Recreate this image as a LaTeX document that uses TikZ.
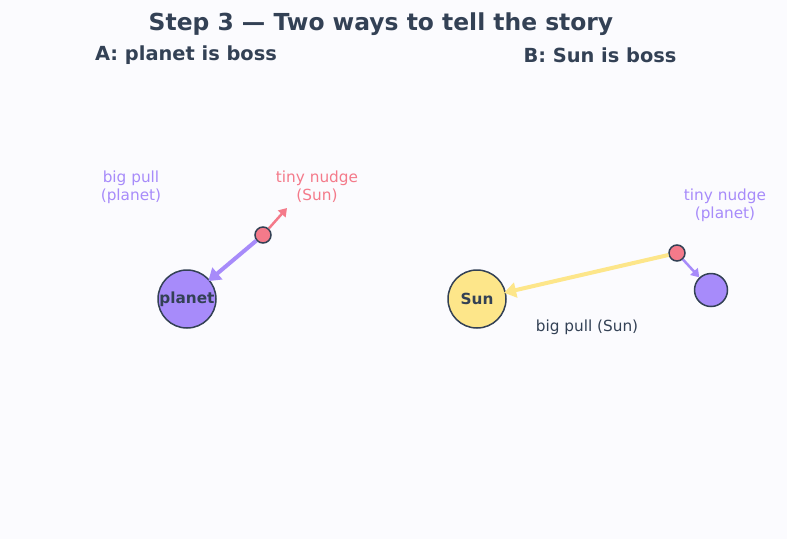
\documentclass[tikz,border=0pt]{standalone}
\usepackage{fontspec}
\setmainfont{DejaVu Sans}
\usetikzlibrary{arrows.meta}
\definecolor{bgc}{HTML}{FBFBFE}
\definecolor{ink}{HTML}{334155}
\definecolor{violet}{HTML}{A78BFA}
\definecolor{rose}{HTML}{F47A8A}
\definecolor{amber}{HTML}{FDE68A}
\tikzset{
  body/.style={circle,draw=ink,line width=1.5pt,inner sep=0pt,font=\fontsize{15.3}{18}\selectfont\bfseries,text=ink},
  lbl/.style={align=center,font=\fontsize{15.3}{18}\selectfont},
  bigarrow/.style={line width=4pt,-{Triangle[length=12pt,width=15pt]},shorten >=-2pt},
  smallarrow/.style={line width=2.5pt,-{Triangle[length=8pt,width=10pt]}},
}
\begin{document}
\begin{tikzpicture}[x=1pt,y=-1pt]
\fill[bgc] (0,0) rectangle (787,539);
\useasboundingbox (0,0) rectangle (787,539);
\node[text=ink,font=\fontsize{23.4}{27}\selectfont\bfseries] (title) at (381,24) {Step 3 — Two ways to tell the story};
\node[text=ink,font=\fontsize{19.4}{23}\selectfont\bfseries] (subA) at (186,55) {A: planet is boss};
\node[text=ink,font=\fontsize{19.4}{23}\selectfont\bfseries] (subB) at (600,55) {B: Sun is boss};
% Panel A
\node[body,fill=violet,minimum size=58pt] (planetA) at (187,299) {planet};
\node[body,fill=rose,minimum size=16pt] (sunA) at (263,235) {};
\coordinate (nudgeA) at (287,208);
\draw[violet,bigarrow] (sunA) -- (planetA);
\draw[rose,smallarrow] (sunA) -- (nudgeA);
\node[lbl,text=violet] (bigA) at (131,187) {big pull\\(planet)};
\node[lbl,text=rose] (tinyA) at (317,187) {tiny nudge\\(Sun)};
% Panel B
\node[body,fill=amber,minimum size=58pt] (sunB) at (477,299) {Sun};
\node[body,fill=rose,minimum size=16pt] (dotB) at (677,253) {};
\node[body,fill=violet,minimum size=33pt] (planetB) at (711,290) {};
\draw[amber,bigarrow] (dotB) -- (sunB);
\draw[violet,smallarrow] (dotB) -- (planetB);
\node[lbl,text=violet] (tinyB) at (725,205) {tiny nudge\\(planet)};
\node[lbl,text=ink] (bigB) at (587,327) {big pull (Sun)};
\end{tikzpicture}
\end{document}
